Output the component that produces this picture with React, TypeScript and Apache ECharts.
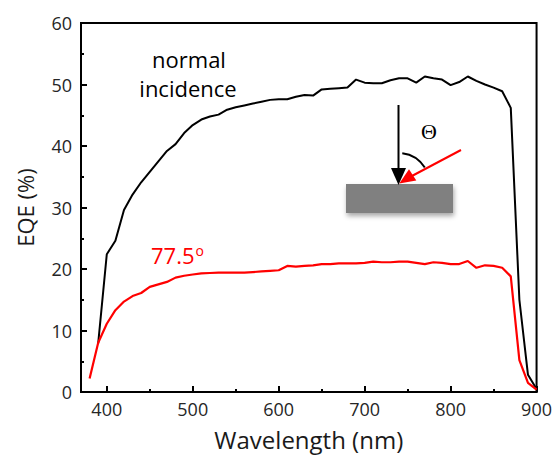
import React, { useEffect, useRef } from "react";
import * as echarts from "echarts";

const wavelengthNormal = [390, 400, 410, 420, 430, 440, 450, 460, 470, 480, 490, 500, 510, 520, 530, 540, 550, 560, 570, 580, 590, 600, 610, 620, 630, 640, 650, 660, 670, 680, 690, 700, 710, 720, 730, 740, 750, 760, 770, 780, 790, 800, 810, 820, 830, 840, 850, 860, 870, 880, 890, 900];
const eqeNormal = [7.9, 22.4, 24.6, 29.6, 32.1, 34.1, 35.8, 37.5, 39.2, 40.3, 42.1, 43.4, 44.3, 44.8, 45.1, 45.9, 46.3, 46.6, 46.9, 47.2, 47.5, 47.6, 47.6, 48.0, 48.3, 48.2, 49.2, 49.3, 49.4, 49.5, 50.8, 50.3, 50.2, 50.2, 50.7, 51.0, 51.0, 50.3, 51.3, 51.0, 50.8, 49.9, 50.4, 51.3, 50.6, 50.0, 49.5, 48.9, 46.2, 15.0, 2.8, 0.5];

const wavelengthOblique = [380, 390, 400, 410, 420, 430, 440, 450, 460, 470, 480, 490, 500, 510, 520, 530, 540, 550, 560, 570, 580, 590, 600, 610, 620, 630, 640, 650, 660, 670, 680, 690, 700, 710, 720, 730, 740, 750, 760, 770, 780, 790, 800, 810, 820, 830, 840, 850, 860, 870, 880, 890, 900];
const eqeOblique = [2.2, 8.0, 11.1, 13.3, 14.7, 15.6, 16.1, 17.1, 17.5, 17.9, 18.6, 18.9, 19.1, 19.3, 19.35, 19.4, 19.4, 19.4, 19.4, 19.5, 19.6, 19.7, 19.8, 20.5, 20.4, 20.5, 20.6, 20.8, 20.8, 20.9, 20.9, 20.9, 21.0, 21.2, 21.1, 21.1, 21.2, 21.2, 21.0, 20.8, 21.1, 21.0, 20.8, 20.8, 21.3, 20.2, 20.6, 20.5, 20.2, 18.8, 5.2, 1.5, 0.4];

const xMajorTicks = [400, 500, 600, 700, 800, 900];
const xMinorTicks = [450, 550, 650, 750, 850];

const FONT = "'Open Sans', 'Noto Sans', sans-serif";

export default function App() {
  const ref = useRef<HTMLDivElement>(null);

  useEffect(() => {
    if (!ref.current) return;
    const chart = echarts.init(ref.current, null, { renderer: "svg" });
    const normalData = wavelengthNormal.map((w, i) => [w, eqeNormal[i]]);
    const obliqueData = wavelengthOblique.map((w, i) => [w, eqeOblique[i]]);

    const deg = Math.PI / 180;

    chart.setOption({
      animation: false,
      backgroundColor: "#fff",
      grid: {
        left: 81,
        right: 18,
        top: 23,
        bottom: 67,
        show: true,
        borderColor: "#000",
        borderWidth: 2,
        backgroundColor: "transparent",
      },
      xAxis: [
        {
          type: "value",
          min: 370,
          max: 900,
          name: "Wavelength (nm)",
          nameLocation: "middle",
          nameGap: 35,
          nameTextStyle: { fontFamily: FONT, fontSize: 24, color: "#1a1a1a" },
          axisLine: { show: true, lineStyle: { color: "#000", width: 2 } },
          axisTick: {
            show: true,
            inside: true,
            length: 6,
            lineStyle: { color: "#000", width: 2 },
            customValues: xMajorTicks,
          },
          axisLabel: {
            show: true,
            fontFamily: FONT,
            fontSize: 18,
            color: "#262626",
            margin: 8,
            customValues: xMajorTicks,
          },
          splitLine: { show: false },
        },
        {
          type: "value",
          min: 370,
          max: 900,
          position: "bottom",
          axisLine: { show: false },
          axisTick: {
            show: true,
            inside: true,
            length: 3,
            lineStyle: { color: "#000", width: 2 },
            customValues: xMinorTicks,
          },
          axisLabel: { show: false },
          splitLine: { show: false },
        },
      ],
      yAxis: {
        type: "value",
        min: 0,
        max: 60,
        interval: 10,
        name: "EQE (%)",
        nameLocation: "middle",
        nameGap: 45,
        nameTextStyle: { fontFamily: FONT, fontSize: 22, color: "#1a1a1a" },
        axisLine: { show: true, lineStyle: { color: "#000", width: 2 } },
        axisTick: { show: true, inside: true, length: 6, lineStyle: { color: "#000", width: 2 } },
        minorTick: { show: true, splitNumber: 2, length: 3, lineStyle: { color: "#000", width: 2 } },
        axisLabel: { fontFamily: FONT, fontSize: 18, color: "#262626", margin: 9 },
        splitLine: { show: false },
        minorSplitLine: { show: false },
      },
      series: [
        {
          name: "normal incidence",
          type: "line",
          data: normalData,
          showSymbol: false,
          symbol: "none",
          lineStyle: { color: "#000", width: 2 },
          z: 3,
        },
        {
          name: "77.5",
          type: "line",
          data: obliqueData,
          showSymbol: false,
          symbol: "none",
          lineStyle: { color: "#ff0000", width: 2.2 },
          z: 4,
        },
      ],
      graphic: [
        {
          type: "text",
          x: 189,
          y: 59,
          style: { text: "normal", fontFamily: FONT, fontSize: 22, fill: "#000", align: "center", verticalAlign: "middle" },
        },
        {
          type: "text",
          x: 188,
          y: 88,
          style: { text: "incidence", fontFamily: FONT, fontSize: 22, fill: "#000", align: "center", verticalAlign: "middle" },
        },
        {
          type: "text",
          x: 151,
          y: 255,
          style: {
            text: "{a|77.5}{b|o}",
            align: "left",
            verticalAlign: "middle",
            rich: {
              a: { fontFamily: FONT, fontSize: 22, fill: "#ff0000", color: "#ff0000" },
              b: { fontFamily: FONT, fontSize: 14, fill: "#ff0000", color: "#ff0000", verticalAlign: "top", padding: [0, 0, 10, 1] },
            },
          },
        },
        {
          type: "rect",
          shape: { x: 346, y: 184, width: 107, height: 29 },
          style: {
            fill: "#808080",
            shadowBlur: 5,
            shadowColor: "rgba(0,0,0,0.35)",
            shadowOffsetX: 1,
            shadowOffsetY: 3,
          },
        },
        {
          type: "line",
          shape: { x1: 398.5, y1: 105, x2: 398.5, y2: 172 },
          style: { stroke: "#000", lineWidth: 2 },
        },
        {
          type: "polygon",
          shape: { points: [[391, 168], [406, 168], [398.5, 185]] },
          style: { fill: "#000" },
        },
        {
          type: "arc",
          shape: { cx: 398.5, cy: 184, r: 31, startAngle: -83 * deg, endAngle: -32 * deg, clockwise: true },
          style: { stroke: "#000", lineWidth: 2, fill: "none" },
        },
        {
          type: "line",
          shape: { x1: 461, y1: 150, x2: 410, y2: 177 },
          style: { stroke: "#ff0000", lineWidth: 2 },
        },
        {
          type: "polygon",
          shape: { points: [[399.3, 183.5], [409, 169.3], [416.3, 180.5]] },
          style: { fill: "#ff0000" },
        },
        {
          type: "text",
          x: 429,
          y: 131,
          style: {
            text: "Θ",
            fontFamily: "'Liberation Serif', 'DejaVu Serif', serif",
            fontSize: 22,
            fill: "#000",
            align: "center",
            verticalAlign: "middle",
          },
        },
      ],
    });

    return () => chart.dispose();
  }, []);

  return (
    <div
      ref={ref}
      style={{ position: "fixed", left: 0, top: 0, width: 555, height: 459 }}
    />
  );
}
